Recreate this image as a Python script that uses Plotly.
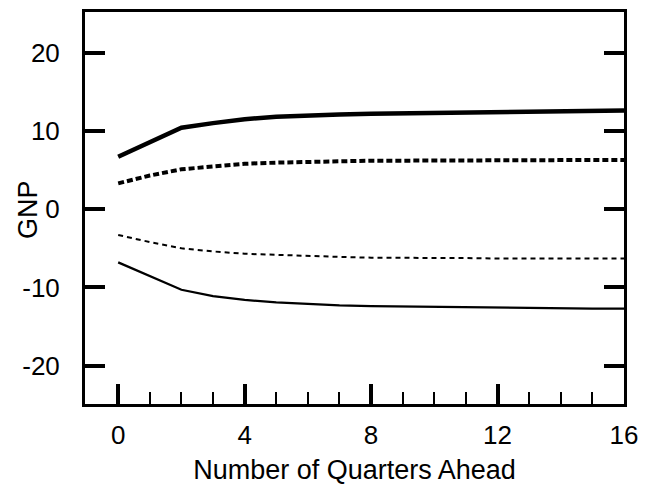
import plotly.graph_objects as go

quarters = list(range(0, 17))
upper_solid = [6.7, 8.6, 10.4, 11.0, 11.5, 11.8, 12.0, 12.1, 12.2, 12.25, 12.3, 12.4, 12.45, 12.5, 12.55, 12.6, 12.6]
upper_dotted = [3.3, 4.3, 5.1, 5.5, 5.8, 5.95, 6.05, 6.15, 6.2, 6.2, 6.2, 6.25, 6.25, 6.25, 6.3, 6.3, 6.3]
lower_dashed = [-3.3, -4.2, -5.0, -5.4, -5.7, -5.85, -6.0, -6.1, -6.2, -6.2, -6.25, -6.25, -6.3, -6.3, -6.3, -6.3, -6.3]
lower_solid = [-6.8, -8.6, -10.3, -11.1, -11.6, -11.9, -12.1, -12.3, -12.4, -12.45, -12.5, -12.55, -12.6, -12.6, -12.65, -12.7, -12.7]

x_ticks = [0, 4, 8, 12, 16]
x_minor = [q for q in quarters if q not in x_ticks]
y_ticks = [-20, -10, 0, 10, 20]

fig = go.Figure()
fig.add_trace(go.Scatter(x=quarters, y=upper_solid, mode="lines",
                         line=dict(color="black", width=4.5)))
fig.add_trace(go.Scatter(x=quarters, y=upper_dotted, mode="lines",
                         line=dict(color="black", width=4, dash="6px,3px")))
fig.add_trace(go.Scatter(x=quarters, y=lower_dashed, mode="lines",
                         line=dict(color="black", width=2, dash="5px,4px")))
fig.add_trace(go.Scatter(x=quarters, y=lower_solid, mode="lines",
                         line=dict(color="black", width=2.3)))

tick_font = dict(family="Liberation Sans, Arial, sans-serif", size=26, color="black")
title_font = dict(family="Liberation Sans, Arial, sans-serif", size=27, color="black")

fig.update_layout(
    width=631, height=477,
    margin=dict(l=77, r=15, t=4, b=81),
    paper_bgcolor="white", plot_bgcolor="white",
    showlegend=False,
    font=tick_font,
    xaxis=dict(
        range=[-1.05, 16.0], tickvals=x_ticks, ticktext=[str(v) for v in x_ticks],
        ticks="inside", ticklen=20, tickwidth=3.5, tickcolor="black",
        minor=dict(tickmode="array", tickvals=x_minor, ticks="inside",
                   ticklen=12, tickwidth=2, tickcolor="black"),
        showline=True, linecolor="black", linewidth=3, mirror=True,
        showgrid=False, zeroline=False, automargin=False,
        ticklabelstandoff=6,
        title=dict(text="Number of Quarters Ahead", font=title_font, standoff=23),
        tickfont=tick_font,
    ),
    yaxis=dict(
        range=[-24.9, 25.2], tickvals=y_ticks, ticktext=[str(v) for v in y_ticks],
        ticks="inside", ticklen=20, tickwidth=3.5, tickcolor="black",
        showline=True, linecolor="black", linewidth=3, mirror="ticks",
        showgrid=False, zeroline=False, automargin=False,
        ticklabelstandoff=17,
        tickfont=tick_font,
    ),
    annotations=[dict(
        text="GNP", xref="paper", yref="paper", x=0, y=0.5,
        xanchor="center", yanchor="middle", xshift=-57, yshift=-2,
        textangle=-90, showarrow=False, font=title_font,
    )],
)

fig.write_html("out.html")
